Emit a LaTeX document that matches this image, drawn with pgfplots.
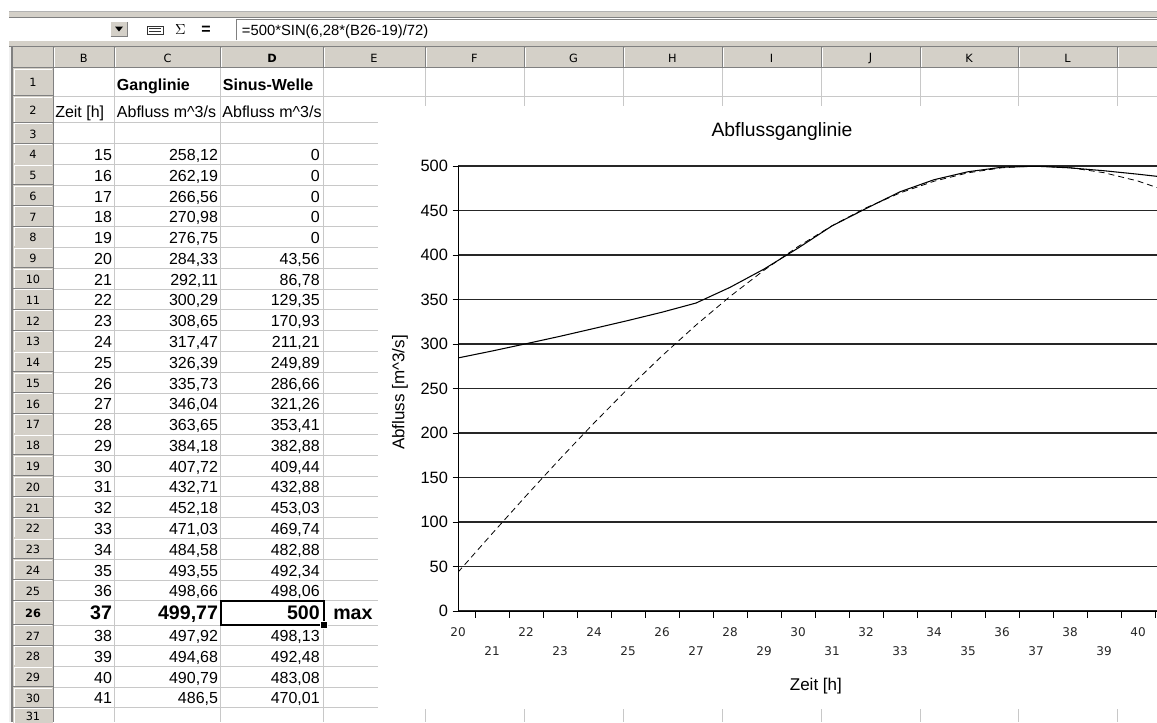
\documentclass[border=0pt]{standalone}
\usepackage{pgfplots}
\pgfplotsset{compat=1.18}
\usepackage{pgfplotstable}
\usepackage{fontspec}
\setmainfont{Liberation Sans}
\newfontfamily\tahoma{DejaVu Sans}
\definecolor{btn}{RGB}{212,208,200}
\definecolor{gridc}{RGB}{200,200,200}
\definecolor{dk}{RGB}{128,128,128}
\newcommand\cellfont{\fontsize{12}{14}\selectfont}
\newcommand\hdrfont{\tahoma\fontsize{8.5}{10}\selectfont}

\pgfplotstableread{
x gang sinus
20 284.33 43.56
21 292.11 86.78
22 300.29 129.35
23 308.65 170.93
24 317.47 211.21
25 326.39 249.89
26 335.73 286.66
27 346.04 321.26
28 363.65 353.41
29 384.18 382.88
30 407.72 409.44
31 432.71 432.88
32 452.18 453.03
33 471.03 469.74
34 484.58 482.88
35 493.55 492.34
36 498.66 498.06
37 499.77 500
38 497.92 498.13
39 494.68 492.48
40 490.79 483.08
41 486.5 470.01
}\datatable

\begin{document}
\begin{tikzpicture}[x=0.75pt,y=-0.75pt]
\useasboundingbox (0,0) rectangle (1157,722);
\fill[white] (0,0) rectangle (1157,722);

% ---- toolbar ----
\fill[btn] (9,11) rectangle (1157,18);
\draw[gray!60] (9,11.5) -- (1157,11.5);
\draw[dk, line width=0.9pt] (9,17.5) -- (1157,17.5);
\fill[btn] (110,21) rectangle (128,37);
\draw[white] (110.5,37) -- (110.5,21.5) -- (128,21.5);
\draw[dk] (110.5,36.5) -- (127.5,36.5) -- (127.5,21.5);
\fill[black] (115,26.5) -- (123,26.5) -- (119,31.5) -- cycle;
\draw[black!80] (147,26) rectangle (163,34);
\draw[black!80] (149,28.5) -- (161,28.5) (149,31.5) -- (161,31.5);
\node[font=\fontsize{11}{12}\selectfont\bfseries, inner sep=0] at (180.5,30) {$\Sigma$};
\node[font=\fontsize{12}{12}\selectfont\bfseries, inner sep=0] at (206,30) {=};
\draw[dk] (236,40) -- (236,19.5) -- (1157,19.5);
\node[anchor=base west, inner sep=0, font=\fontsize{11.1}{13}\selectfont] at (241.7,35) {=500*SIN(6,28*(B26-19)/72)};
\fill[btn] (9,41) rectangle (1157,46.5);
\draw[dk, line width=0.9pt] (9,46.8) -- (1157,46.8);

% ---- column header row ----
\fill[btn] (13,47) rectangle (1157,68);
\foreach \cx in {53,114.3,220.7,323.3,425,524,623,722,821,920,1018,1117}{
  \draw[dk] (\cx,47) -- (\cx,68);
  \draw[white] (\cx+1,48) -- (\cx+1,67);
}
\draw[dk] (13,67.5) -- (1157,67.5);
\foreach \lx/\lt in {83.7/B,167.5/C,374/E,474.5/F,573.5/G,672.5/H,771.5/I,870.5/J,969/K,1067.5/L}{
  \node[font=\hdrfont, inner sep=0] at (\lx,58) {\lt};
}
\node[font=\hdrfont\bfseries, inner sep=0] at (272,58) {D};

% ---- grid lines ----
\foreach \by in {96,122.7,143.5,164.3,185.0,205.8,226.6,247.4,268.2,288.9,309.7,330.5,351.3,372.1,392.8,413.6,434.4,455.2,476.0,496.7,517.5,538.3,559.1,579.9,600.6,624.9,645.6,666.3,687.0,707.7}{
  \draw[gridc] (53,\by) -- (1157,\by);
}
\foreach \cx in {114.3,220.7,323.3,425,524,623,722,821,920,1018,1117}{
  \draw[gridc] (\cx,68) -- (\cx,722);
}

% ---- row headers ----
\fill[gray!12] (9,47) rectangle (11,722);
\draw[dk, line width=1.2pt] (12,47) -- (12,722);
\foreach \r/\t/\b in {1/68/96,2/96/122.7,3/122.7/143.5,4/143.5/164.3,5/164.3/185.0,6/185.0/205.8,7/205.8/226.6,8/226.6/247.4,9/247.4/268.2,10/268.2/288.9,11/288.9/309.7,12/309.7/330.5,13/330.5/351.3,14/351.3/372.1,15/372.1/392.8,16/392.8/413.6,17/413.6/434.4,18/434.4/455.2,19/455.2/476.0,20/476.0/496.7,21/496.7/517.5,22/517.5/538.3,23/538.3/559.1,24/559.1/579.9,25/579.9/600.6,26/600.6/624.9,27/624.9/645.6,28/645.6/666.3,29/666.3/687.0,30/687.0/707.7,31/707.7/724.4}{
  \fill[btn] (13,\t) rectangle (53,\b);
  \draw[white] (14,\t+0.8) -- (52,\t+0.8);
  \draw[white] (14,\t+0.8) -- (14,\b-1);
  \draw[dk] (13,\b-0.5) -- (53,\b-0.5);
  \node[font=\hdrfont, inner sep=0] at (33,{(\t+\b)/2+0.8}) {\ifnum\r=26 \bfseries\fi\r};
}
\draw[dk] (53,68) -- (53,722);

% ---- cell contents ----
\node[anchor=base west, inner sep=0, font=\cellfont\bfseries] at (116.7,90.5) {Ganglinie};
\node[anchor=base west, inner sep=0, font=\cellfont\bfseries] at (222.7,90.5) {Sinus-Welle};
\node[anchor=base west, inner sep=0, font=\cellfont] at (55,117.5) {Zeit [h]};
\node[anchor=base west, inner sep=0, font=\cellfont] at (116.7,117.5) {Abfluss m\textasciicircum3/s};
\node[anchor=base west, inner sep=0, font=\cellfont] at (222.2,117.5) {Abfluss m\textasciicircum3/s};
\foreach \b/\a/\c/\d in {164.3/15/258{,}12/0,185.0/16/262{,}19/0,205.8/17/266{,}56/0,226.6/18/270{,}98/0,247.4/19/276{,}75/0,268.2/20/284{,}33/43{,}56,288.9/21/292{,}11/86{,}78,309.7/22/300{,}29/129{,}35,330.5/23/308{,}65/170{,}93,351.3/24/317{,}47/211{,}21,372.1/25/326{,}39/249{,}89,392.8/26/335{,}73/286{,}66,413.6/27/346{,}04/321{,}26,434.4/28/363{,}65/353{,}41,455.2/29/384{,}18/382{,}88,476.0/30/407{,}72/409{,}44,496.7/31/432{,}71/432{,}88,517.5/32/452{,}18/453{,}03,538.3/33/471{,}03/469{,}74,559.1/34/484{,}58/482{,}88,579.9/35/493{,}55/492{,}34,600.6/36/498{,}66/498{,}06,645.6/38/497{,}92/498{,}13,666.3/39/494{,}68/492{,}48,687.0/40/490{,}79/483{,}08,707.7/41/486{,}5/470{,}01}{
  \node[anchor=base east, inner sep=0, font=\cellfont] at (112.3,\b-3.8) {\a};
  \node[anchor=base east, inner sep=0, font=\cellfont] at (218.3,\b-3.8) {\c};
  \node[anchor=base east, inner sep=0, font=\cellfont] at (320,\b-3.8) {\d};
}
\newcommand\bigcell{\fontsize{14.7}{16}\selectfont\bfseries}
\node[anchor=base east, inner sep=0, font=\bigcell] at (112.3,619.5) {37};
\node[anchor=base east, inner sep=0, font=\bigcell] at (218.3,619.5) {499,77};
\node[anchor=base east, inner sep=0, font=\bigcell] at (320,619.5) {500};
\node[anchor=base west, inner sep=0, font=\bigcell] at (333,619.5) {max};
\draw[black, line width=1.5pt] (220.5,600.8) rectangle (323.5,624.5);
\fill[black] (321,622) rectangle (327,628);
\draw[white, line width=0.5pt] (320.5,621.5) rectangle (327.5,628.5);

% ---- chart area ----
\fill[white] (378,106) rectangle (1157,708.6);

\begin{axis}[
  at={(343.5pt,-458.25pt)}, anchor=south west,
  scale only axis, width=524.25pt, height=333.75pt,
  xmin=20, xmax=40.559, ymin=0, ymax=500,
  clip=true,
  axis x line*=bottom, axis y line*=left,
  axis line style={black, line width=0.75pt},
  ytick={0,50,...,500},
  ymajorgrids,
  major grid style={black!85, line width=0.8pt},
  xtick={20,22,...,40},
  extra x ticks={21,23,...,39},
  extra x tick style={xticklabel style={yshift=-14.25pt}},
  minor xtick={20.5,21.5,...,40.5},
  tick align=outside,
  major tick length=4pt, minor tick length=5pt,
  tick style={black, line width=0.75pt},
  every major x tick/.append style={draw=none},
  /pgf/number format/assume math mode=true,
  /pgf/number format/1000 sep={},
  xticklabel style={font=\tahoma\fontsize{9}{10}\selectfont, text=black!85, yshift=-5pt},
  yticklabel style={font=\fontsize{12.3}{14}\selectfont},
  title={Abflussganglinie},
  every axis title/.style={at={(axis description cs:0.4635,1.077)}, anchor=center, font=\fontsize{14.5}{16}\selectfont},
  xlabel={Zeit [h]},
  every axis x label/.style={at={(axis description cs:0.512,-0.168)}, anchor=center, font=\fontsize{12.75}{14}\selectfont},
  ylabel={Abfluss [m\textasciicircum3/s]},
  every axis y label/.style={at={(axis description cs:-0.083,0.491)}, rotate=90, anchor=center, font=\fontsize{12.75}{14}\selectfont},
]
\addplot[black, line width=0.8pt] table[x=x, y=gang] {\datatable};
\addplot[black, line width=0.6pt, dash pattern=on 4.5pt off 3pt] table[x=x, y=sinus] {\datatable};
\end{axis}
\end{tikzpicture}
\end{document}
